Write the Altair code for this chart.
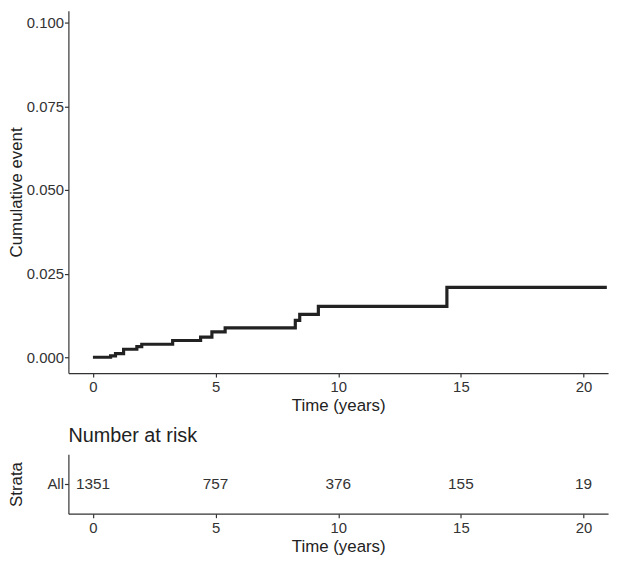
import altair as alt
import pandas as pd

# Cumulative event curve (step function)
times = [0, 0.72, 0.92, 1.25, 1.79, 1.99, 3.25, 4.39, 4.85, 5.39, 8.25, 8.43, 9.19, 14.43, 20.95]
cum_event = [0, 0.0004, 0.0011, 0.0024, 0.0032, 0.0039, 0.005, 0.006, 0.0076, 0.0088, 0.011, 0.0128, 0.0152, 0.0209, 0.0209]

# Number at risk table
risk_times = [0, 5, 10, 15, 20]
risk_counts = [1351, 757, 376, 155, 19]
strata = ["All"] * 5

x_ticks = [0, 5, 10, 15, 20]
y_ticks = [0, 0.025, 0.05, 0.075, 0.1]

FONT = "Liberation Sans, Arial, sans-serif"

curve_df = pd.DataFrame({"time": times, "cum": cum_event})
risk_df = pd.DataFrame({"time": risk_times, "n": risk_counts, "strata": strata})

x_scale = alt.Scale(domain=[-1, 21], nice=False, zero=False)

def xaxis():
    return alt.Axis(values=x_ticks, title="Time (years)", grid=False, labelFontSize=15,
                    titleFontSize=17, labelPadding=3, titlePadding=3, tickSize=4)

def yaxis(title, **kw):
    return alt.Axis(title=title, grid=False, labelFontSize=15, titleFontSize=17, tickSize=4,
                    labelPadding=1, minExtent=43, maxExtent=43, titlePadding=0, **kw)

top = alt.Chart(curve_df).mark_line(
    interpolate="step-after", color="#222222", strokeWidth=3.2, strokeCap="butt"
).encode(
    x=alt.X("time:Q", scale=x_scale, axis=xaxis()),
    y=alt.Y("cum:Q", scale=alt.Scale(domain=[-0.00473, 0.10355], nice=False, zero=False),
            axis=yaxis("Cumulative event", values=y_ticks, format=".3f")),
).properties(width=545, height=366)

bottom = alt.Chart(risk_df).mark_text(fontSize=15.5, color="#333333", font=FONT).encode(
    x=alt.X("time:Q", scale=x_scale, axis=xaxis()),
    y=alt.Y("strata:N", axis=yaxis("Strata")),
    text=alt.Text("n:Q"),
).properties(
    width=545, height=60,
    title=alt.TitleParams("Number at risk", anchor="start", frame="group", fontSize=20,
                          fontWeight="normal", color="#222222", font=FONT, offset=8),
)

chart = alt.vconcat(top, bottom, spacing=13).properties(padding=0).configure_view(
    stroke=None
).configure_axis(
    labelFont=FONT, titleFont=FONT, labelColor="#333333", titleColor="#222222",
    titleFontWeight="normal", domainColor="#333333", tickColor="#333333",
    domainWidth=1.2, tickWidth=1.2,
)

chart.save("out.html", embed_options={"renderer": "svg", "actions": False})
